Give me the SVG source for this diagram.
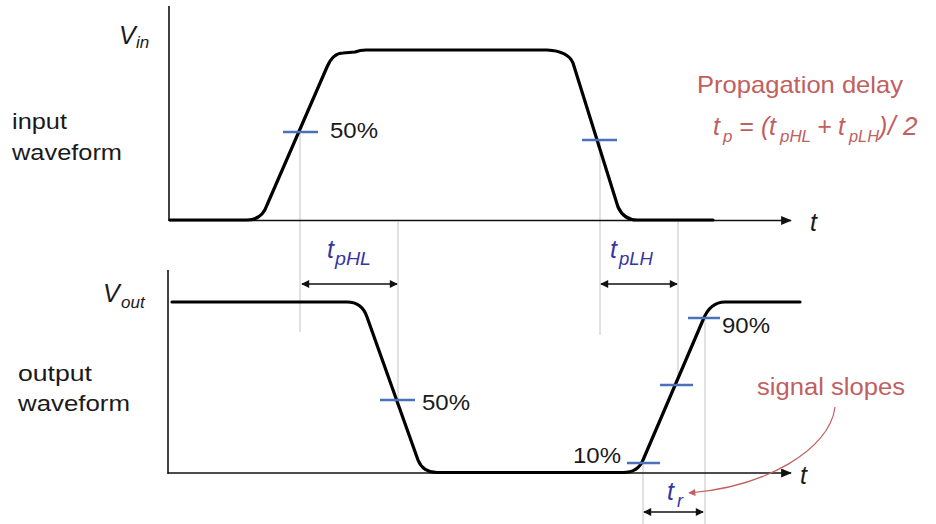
<svg xmlns="http://www.w3.org/2000/svg" width="936" height="524" viewBox="0 0 936 524">
<defs>
<marker id="ah" viewBox="0 0 10 10" refX="9" refY="5" markerWidth="10" markerHeight="8" markerUnits="userSpaceOnUse" orient="auto-start-reverse"><path d="M0,0 L10,5 L0,10 z" fill="#111"/></marker>
<marker id="axh" viewBox="0 0 12 10" refX="11" refY="5" markerWidth="12" markerHeight="9" markerUnits="userSpaceOnUse" orient="auto"><path d="M0,0 L12,5 L0,10 z" fill="#111"/></marker>
<marker id="rh" viewBox="0 0 10 10" refX="9" refY="5" markerWidth="9" markerHeight="7" markerUnits="userSpaceOnUse" orient="auto"><path d="M0,0 L10,5 L0,10 z" fill="#c0605f"/></marker>
</defs>
<style>
.axis{stroke:#111;stroke-width:1.6;fill:none}
.wave{stroke:#000;stroke-width:3.2;fill:none;stroke-linejoin:round;stroke-linecap:round}
.tick{stroke:#4a72b8;stroke-width:2.5}
.guide{stroke:#c4c4c4;stroke-width:1}
.dim{stroke:#111;stroke-width:1.6}
.lbl{font-family:"Liberation Sans",Arial,sans-serif;font-size:22px;fill:#1a1a1a}
.ital{font-family:"Liberation Sans",Arial,sans-serif;font-style:italic;fill:#1a1a1a}
.blue{font-family:"Liberation Sans",Arial,sans-serif;font-style:italic;fill:#3535a5}
.rose{font-family:"Liberation Sans",Arial,sans-serif;fill:#c0605f}
</style>
<rect width="936" height="524" fill="#fff"/>
<g id="guides">
<line class="guide" x1="300" y1="132" x2="300" y2="332"/>
<line class="guide" x1="398" y1="222" x2="398" y2="400"/>
<line class="guide" x1="600" y1="140" x2="600" y2="335"/>
<line class="guide" x1="678" y1="222" x2="678" y2="378"/>
<line class="guide" x1="643" y1="460" x2="643" y2="524"/>
<line class="guide" x1="705" y1="318" x2="705" y2="524"/>
</g>
<g id="axes">
<line class="axis" x1="169" y1="6" x2="169" y2="221"/>
<line class="axis" x1="169" y1="220.5" x2="791" y2="220.5" marker-end="url(#axh)"/>
<line class="axis" x1="168" y1="270" x2="168" y2="474"/>
<line class="axis" x1="168" y1="473" x2="791" y2="473" marker-end="url(#axh)"/>
<text class="ital" x="810" y="231" font-size="25">t</text>
<text class="ital" x="800" y="484" font-size="25">t</text>
</g>
<g id="input-waveform">
<path class="wave" d="M170,220 L247,220 Q262,220 267,205 L327,67 Q333,53 343,53 L355,52 Q360,50 366,50 L547,50 Q568,51 573,63 L618,207 Q624,220 637,220 L713,220"/>
</g>
<g id="output-waveform">
<path class="wave" d="M172,302 L347,302 Q362,302 367,317 L418,460 Q423,472.5 437,472.5 L623,472.5 Q638,472.5 643,460 L703,320 Q710,302 725,302 L800,302"/>
</g>
<g id="ticks">
<line class="tick" x1="283" y1="132" x2="318" y2="132"/>
<line class="tick" x1="582" y1="140" x2="617" y2="140"/>
<line class="tick" x1="380" y1="400" x2="415" y2="400"/>
<line class="tick" x1="688" y1="318" x2="720" y2="318"/>
<line class="tick" x1="660" y1="385" x2="693" y2="385"/>
<line class="tick" x1="627" y1="463" x2="660" y2="463"/>
</g>
<g id="connectors">
<line class="dim" x1="302" y1="284" x2="397" y2="284" marker-start="url(#ah)" marker-end="url(#ah)"/>
<line class="dim" x1="601" y1="284" x2="677" y2="284" marker-start="url(#ah)" marker-end="url(#ah)"/>
<line class="dim" x1="644" y1="512" x2="703" y2="512" marker-start="url(#ah)" marker-end="url(#ah)"/>
<path d="M835,407 C830,450 765,487 689,493" stroke="#c0605f" stroke-width="1.2" fill="none" marker-end="url(#rh)"/>
</g>
<g id="percent-labels">
<text class="lbl" x="330" y="138" textLength="48" lengthAdjust="spacingAndGlyphs">50%</text>
<text class="lbl" x="422" y="410" textLength="48" lengthAdjust="spacingAndGlyphs">50%</text>
<text class="lbl" x="722" y="333" textLength="48" lengthAdjust="spacingAndGlyphs">90%</text>
<text class="lbl" x="573" y="463" textLength="48" lengthAdjust="spacingAndGlyphs">10%</text>
</g>
<g id="side-labels">
<text class="lbl" x="12" y="129" textLength="55" lengthAdjust="spacingAndGlyphs">input</text>
<text class="lbl" x="12" y="160" textLength="110" lengthAdjust="spacingAndGlyphs">waveform</text>
<text class="lbl" x="18" y="381" textLength="74" lengthAdjust="spacingAndGlyphs">output</text>
<text class="lbl" x="18" y="411" textLength="112" lengthAdjust="spacingAndGlyphs">waveform</text>
<text class="ital" x="119" y="44" font-size="25">V</text>
<text class="ital" x="136" y="48" font-size="17">in</text>
<text class="ital" x="103" y="302" font-size="25">V</text>
<text class="ital" x="121" y="308" font-size="17">out</text>
</g>
<g id="delay-labels">
<text class="blue" x="327" y="258" font-size="25">t</text>
<text class="blue" x="335" y="265" font-size="18" textLength="36" lengthAdjust="spacingAndGlyphs">pHL</text>
<text class="blue" x="610" y="258" font-size="25">t</text>
<text class="blue" x="619" y="265" font-size="18" textLength="34" lengthAdjust="spacingAndGlyphs">pLH</text>
<text class="blue" x="667" y="500" font-size="25">t</text>
<text class="blue" x="677" y="507" font-size="18">r</text>
</g>
<g id="propagation-note">
<text class="rose" x="697" y="93" font-size="24" textLength="206" lengthAdjust="spacingAndGlyphs">Propagation delay</text>
<text class="rose" font-style="italic" font-size="25" y="135"><tspan x="713">t</tspan><tspan x="723" y="142" font-size="17">p</tspan><tspan x="739" y="135">=</tspan><tspan x="761">(</tspan><tspan x="769">t</tspan><tspan x="780" y="142" font-size="17" textLength="31" lengthAdjust="spacingAndGlyphs">pHL</tspan><tspan x="817" y="135">+</tspan><tspan x="838">t</tspan><tspan x="849" y="142" font-size="17" textLength="30" lengthAdjust="spacingAndGlyphs">pLH</tspan><tspan x="879" y="135">)</tspan><tspan x="888" font-size="27">/</tspan><tspan x="903" font-size="26">2</tspan></text>
<text class="rose" x="757" y="395" font-size="23" textLength="148" lengthAdjust="spacingAndGlyphs">signal slopes</text>
</g>
</svg>
